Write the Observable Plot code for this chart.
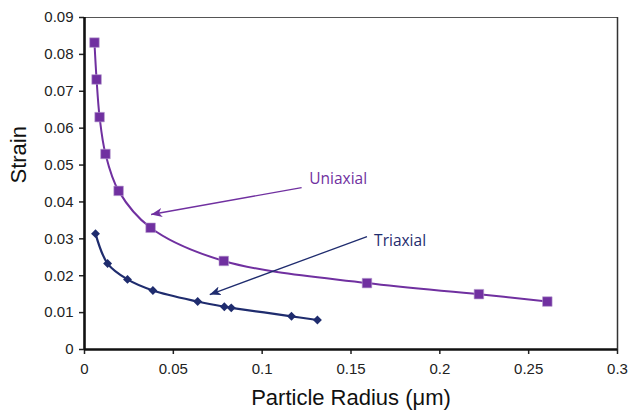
<!DOCTYPE html>
<html>
<head>
<meta charset="utf-8">
<script src="https://cdn.jsdelivr.net/npm/d3@7"></script>
<script src="https://cdn.jsdelivr.net/npm/@observablehq/plot@0.6"></script>
<style>
  html, body { margin: 0; padding: 0; background: #fff; }
  #chart svg { display: block; font-family: "Liberation Sans", Arial, sans-serif; }
</style>
</head>
<body>
<div id="chart"></div>
<script>
// Uniaxial series
const uniRadius = [0.0056, 0.0068, 0.0085, 0.0118, 0.0192, 0.0372, 0.0784, 0.159, 0.222, 0.2605];
const uniStrain = [0.0832, 0.0732, 0.063, 0.053, 0.043, 0.033, 0.024, 0.018, 0.015, 0.013];
// Triaxial series
const triRadius = [0.0062, 0.013, 0.0242, 0.0385, 0.0637, 0.0787, 0.0826, 0.1165, 0.1311];
const triStrain = [0.0314, 0.0233, 0.019, 0.016, 0.013, 0.0116, 0.0113, 0.009, 0.008];
// Ticks
const xTicks = [0, 0.05, 0.1, 0.15, 0.2, 0.25, 0.3];
const yTicks = [0, 0.01, 0.02, 0.03, 0.04, 0.05, 0.06, 0.07, 0.08, 0.09];
// Annotations
const annoLabels = ["Uniaxial", "Triaxial"];
const annoTextX = [0.1265, 0.163];
const annoTextY = [0.0461, 0.0293];
const arrowX1 = [0.1222, 0.159];
const arrowY1 = [0.0439, 0.0306];
const arrowX2 = [0.0375, 0.0705];
const arrowY2 = [0.0366, 0.0149];

const purple = "#7030a0";
const navy = "#1f2c6e";
const colors = [purple, navy];

const uni = uniRadius.map((x, i) => ({x, y: uniStrain[i]}));
const tri = triRadius.map((x, i) => ({x, y: triStrain[i]}));
const annos = annoLabels.map((t, i) => ({
  t, tx: annoTextX[i], ty: annoTextY[i],
  x1: arrowX1[i], y1: arrowY1[i], x2: arrowX2[i], y2: arrowY2[i], c: colors[i]
}));

const fmt = d => d === 0 ? "0" : String(+d.toFixed(2));

const plot = Plot.plot({
  width: 631,
  height: 410,
  marginLeft: 84,
  marginTop: 17,
  marginRight: 14,
  marginBottom: 61,
  x: {domain: [0, 0.3]},
  y: {domain: [0, 0.09]},
  style: {fontFamily: "'Liberation Sans', Arial, sans-serif"},
  marks: [
    Plot.ruleY([0.09], {stroke: "#555", strokeWidth: 1}),
    Plot.ruleX([0.3], {stroke: "#333", strokeWidth: 1.5}),
    Plot.axisY({ticks: yTicks, tickFormat: fmt, tickSize: 5, tickPadding: 6, fontSize: 15, label: null, strokeWidth: 1.5, stroke: "#222", color: "#222"}),
    Plot.axisX({ticks: xTicks, tickFormat: fmt, tickSize: 5, tickPadding: 9, fontSize: 15, label: null, strokeWidth: 1.5, stroke: "#222", color: "#222"}),
    Plot.ruleX([0], {stroke: "#111", strokeWidth: 2.6}),
    Plot.ruleY([0], {stroke: "#111", strokeWidth: 2.6}),
    Plot.line(uni, {x: "x", y: "y", stroke: purple, strokeWidth: 2, curve: "catmull-rom"}),
    Plot.line(tri, {x: "x", y: "y", stroke: navy, strokeWidth: 2.2, curve: "catmull-rom"}),
    Plot.dot(uni, {x: "x", y: "y", symbol: "square", r: 5.4, fill: purple, stroke: "#b9a0d0", strokeWidth: 0.6}),
    Plot.dot(tri, {x: "x", y: "y", symbol: "diamond2", r: 4, fill: navy}),
    Plot.link(annos, {x1: "x1", y1: "y1", x2: "x2", y2: "y2", stroke: "c", strokeWidth: 1.3}),
    Plot.text(annos, {x: "tx", y: "ty", text: "t", fill: "c", textAnchor: "start", fontSize: 15.5, fontFamily: "'Open Sans', sans-serif"}),
    Plot.text(["Particle Radius (\u03bcm)"], {frameAnchor: "bottom", dy: 55, text: d => d, fontSize: 22, fill: "#111"}),
    Plot.text(["Strain"], {frameAnchor: "left", dx: -66, rotate: -90, text: d => d, fontSize: 22, fill: "#111"})
  ]
});

// filled triangle arrowheads
const svg = d3.select(plot);
const defs = svg.insert("defs", ":first-child");
colors.forEach((c, i) => {
  defs.append("marker")
    .attr("id", "mk" + i)
    .attr("viewBox", "-11 -4.5 11 9")
    .attr("refX", 0).attr("refY", 0)
    .attr("markerWidth", 11).attr("markerHeight", 9)
    .attr("markerUnits", "userSpaceOnUse")
    .attr("orient", "auto")
    .append("path")
    .attr("d", "M-11,-4.5L0,0L-11,4.5L-8,0Z")
    .attr("fill", c);
});
svg.selectAll('g[aria-label="link"] path').each(function(d, i) {
  d3.select(this).attr("marker-end", "url(#mk" + i + ")");
});

document.getElementById("chart").appendChild(plot);
</script>
</body>
</html>
